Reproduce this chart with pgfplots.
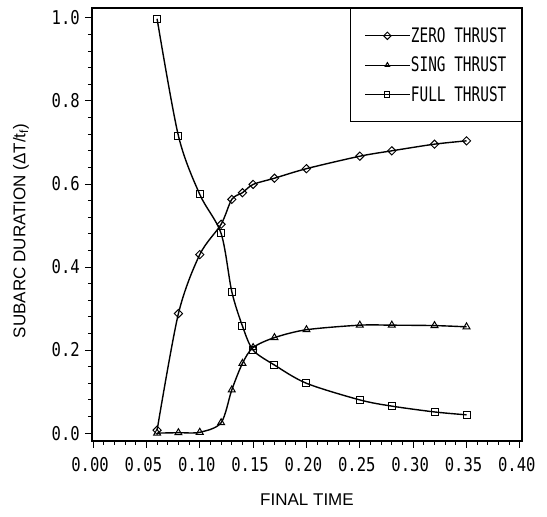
\documentclass[border=0pt]{standalone}
\usepackage{fontspec}
\setmainfont{Liberation Sans}
\newfontfamily\tickfont[FakeStretch=0.82]{DejaVu Sans Mono}
\newfontfamily\legfont[FakeStretch=0.72]{DejaVu Sans Mono}
\usepackage{pgfplots}
\pgfplotsset{compat=1.18}
\begin{document}
\begin{tikzpicture}
\begin{axis}[
  at={(0,0)}, anchor=south west,
  scale only axis, width=430pt, height=433pt,
  xmin=-0.001, xmax=0.402, ymin=-0.019, ymax=1.024,
  xtick={0,0.05,...,0.401}, ytick={0,0.2,...,1.01},
  minor x tick num=4, minor y tick num=4,
  tick pos=left, tick align=outside,
  major tick length=7pt, minor tick length=4pt,
  every tick/.style={black, line width=1pt},
  axis line style={line width=1.6pt},
  /pgf/number format/assume math mode=true,
  xticklabel={\pgfmathprintnumber[fixed,fixed zerofill,precision=2]{\tick}},
  yticklabel={\pgfmathprintnumber[fixed,fixed zerofill,precision=1]{\tick}},
  ticklabel style={font=\tickfont\fontsize{19}{19}\selectfont},
  xticklabel style={anchor=center, yshift=-16.5pt, xshift=-3pt, text height=14pt, text depth=0pt, inner sep=0pt},
  yticklabel style={anchor=east, xshift=-5pt, inner sep=0pt},
  xlabel={FINAL TIME}, ylabel={SUBARC DURATION (ΔT/t\textsubscript{f})},
  xlabel style={at={(axis description cs:0.5,-0.136)}, anchor=center, font=\fontsize{17}{17}\selectfont},
  ylabel style={at={(axis description cs:-0.165,0.485)}, anchor=center, font=\fontsize{17}{17}\selectfont},
  legend style={at={(1,1)}, anchor=north east, draw=black, line width=1.3pt, fill=white,
    inner xsep=14pt, inner ysep=18pt, row sep=11pt,
    font=\legfont\fontsize{20}{20}\selectfont,
    nodes={inner sep=1pt}},
  legend cell align=left,
  legend image code/.code={\draw[mark size=2.6pt, mark repeat=2, mark phase=2, line width=1.2pt] plot coordinates {(0pt,0pt) (22pt,0pt) (44pt,0pt)};},
]
\addplot[black, line width=1.4pt, smooth, tension=0.5, mark=square, mark size=2.9pt, mark options={rotate=45, fill=white, line width=1pt}] coordinates {
(0.06,0.007) (0.08,0.288) (0.10,0.430) (0.12,0.503) (0.13,0.563) (0.14,0.579) (0.15,0.599) (0.17,0.614) (0.20,0.637) (0.25,0.667) (0.28,0.680) (0.32,0.696) (0.35,0.704)};
\addlegendentry{ZERO THRUST}
\addplot[black, line width=1.4pt, smooth, tension=0.5, mark=triangle, mark size=4pt, mark options={fill=white, line width=1pt}] coordinates {
(0.06,0.0) (0.08,0.001) (0.10,0.002) (0.12,0.025) (0.13,0.104) (0.14,0.168) (0.15,0.206) (0.17,0.230) (0.20,0.249) (0.25,0.260) (0.28,0.260) (0.32,0.259) (0.35,0.256)};
\addlegendentry{SING THRUST}
\addplot[black, line width=1.4pt, smooth, tension=0.5, mark=square, mark size=3.5pt, mark options={fill=white, line width=1pt}] coordinates {
(0.06,0.998) (0.08,0.716) (0.10,0.575) (0.12,0.481) (0.13,0.341) (0.14,0.258) (0.15,0.200) (0.17,0.164) (0.20,0.120) (0.25,0.080) (0.28,0.065) (0.32,0.051) (0.35,0.044)};
\addlegendentry{FULL THRUST}
\end{axis}
\pgfresetboundingbox
\path (-92pt,-76pt) rectangle (455pt,441pt);
\end{tikzpicture}
\end{document}
